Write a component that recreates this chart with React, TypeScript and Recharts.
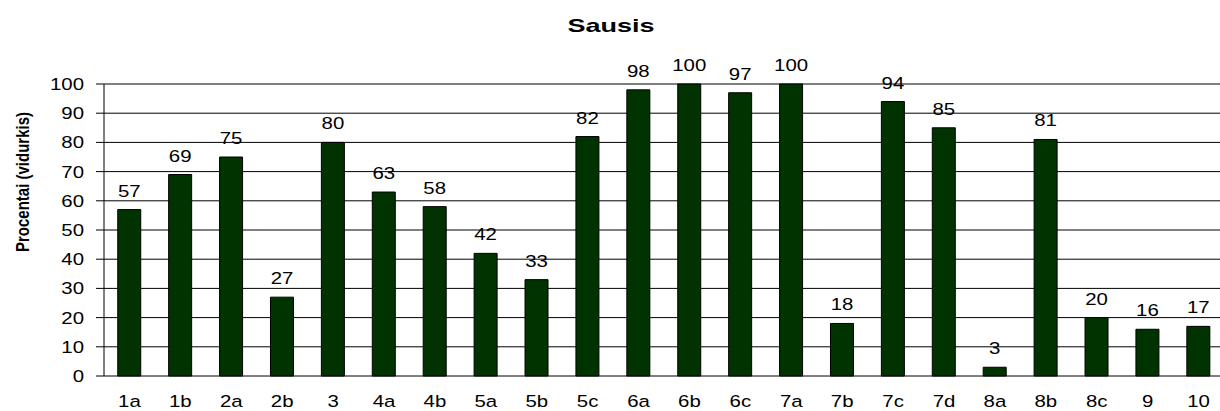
import React from 'react';
import { BarChart, Bar, XAxis, YAxis, CartesianGrid, LabelList } from 'recharts';

const categories = ['1a', '1b', '2a', '2b', '3', '4a', '4b', '5a', '5b', '5c', '6a', '6b', '6c', '7a', '7b', '7c', '7d', '8a', '8b', '8c', '9', '10'];
const values = [57, 69, 75, 27, 80, 63, 58, 42, 33, 82, 98, 100, 97, 100, 18, 94, 85, 3, 81, 20, 16, 17];
const yTicks = [0, 10, 20, 30, 40, 50, 60, 70, 80, 90, 100];
const edgeTicks = categories.map((_, i) => i).concat(categories.length);

const data = categories.map((name, i) => ({ name, value: values[i] }));

const FONT = '"Liberation Sans", Arial, sans-serif';

// the original chart is stretched sideways, so text gets a horizontal scale
const Stretched = ({ x, y, anchor = 'middle', size = 17, sx = 1.2, bold = false, children }: any) => (
  <text
    transform={`translate(${x},${y}) scale(${sx},1)`}
    textAnchor={anchor}
    fontFamily={FONT}
    fontSize={size}
    fontWeight={bold ? 'bold' : 'normal'}
    fill="#000"
  >
    {children}
  </text>
);

const XTick = ({ x, y, payload }: any) => (
  <Stretched x={x} y={y + 31}>{payload.value}</Stretched>
);

const YTick = ({ x, y, payload }: any) => (
  <Stretched x={x} y={y + 6} anchor="end">{payload.value}</Stretched>
);

const BarLabel = ({ x, y, width, value }: any) => (
  <Stretched x={x + width / 2} y={y - 13}>{value}</Stretched>
);

export default function App() {
  return (
    <div style={{ position: 'absolute', left: 0, top: 0, width: 1220, height: 411, overflow: 'hidden', background: '#fff' }}>
      <BarChart
        width={1240}
        height={411}
        data={data}
        margin={{ top: 84, right: 16, left: 44, bottom: 0 }}
        barCategoryGap="27%"
      >
        <CartesianGrid xAxisId="cat" vertical={false} stroke="#000" strokeOpacity={1} />
        <XAxis
          xAxisId="edge"
          type="number"
          domain={[0, categories.length]}
          ticks={edgeTicks}
          interval={0}
          height={0}
          tickSize={6}
          tick={() => <g />}
          axisLine={{ stroke: '#000' }}
          tickLine={{ stroke: '#000' }}
        />
        <XAxis
          xAxisId="cat"
          dataKey="name"
          height={35}
          interval={0}
          tickSize={0}
          tickMargin={0}
          axisLine={false}
          tickLine={false}
          tick={<XTick />}
        />
        <YAxis
          domain={[0, 100]}
          ticks={yTicks}
          interval={0}
          width={60}
          tickSize={8}
          tickMargin={12}
          axisLine={{ stroke: '#000' }}
          tickLine={{ stroke: '#000' }}
          tick={<YTick />}
        />
        <Bar xAxisId="cat" dataKey="value" fill="#003300" stroke="#000" strokeWidth={1} isAnimationActive={false}>
          <LabelList dataKey="value" content={<BarLabel />} />
        </Bar>
      </BarChart>
      <svg width={1220} height={411} style={{ position: 'absolute', left: 0, top: 0, pointerEvents: 'none' }}>
        <Stretched x={611} y={32} size={19} sx={1.42} bold>Sausis</Stretched>
        <text
          transform="translate(29,182) scale(1.25,1) rotate(-90)"
          textAnchor="middle"
          fontFamily={FONT}
          fontSize={15}
          fontWeight="bold"
          fill="#000"
        >
          Procentai (vidurkis)
        </text>
      </svg>
    </div>
  );
}
